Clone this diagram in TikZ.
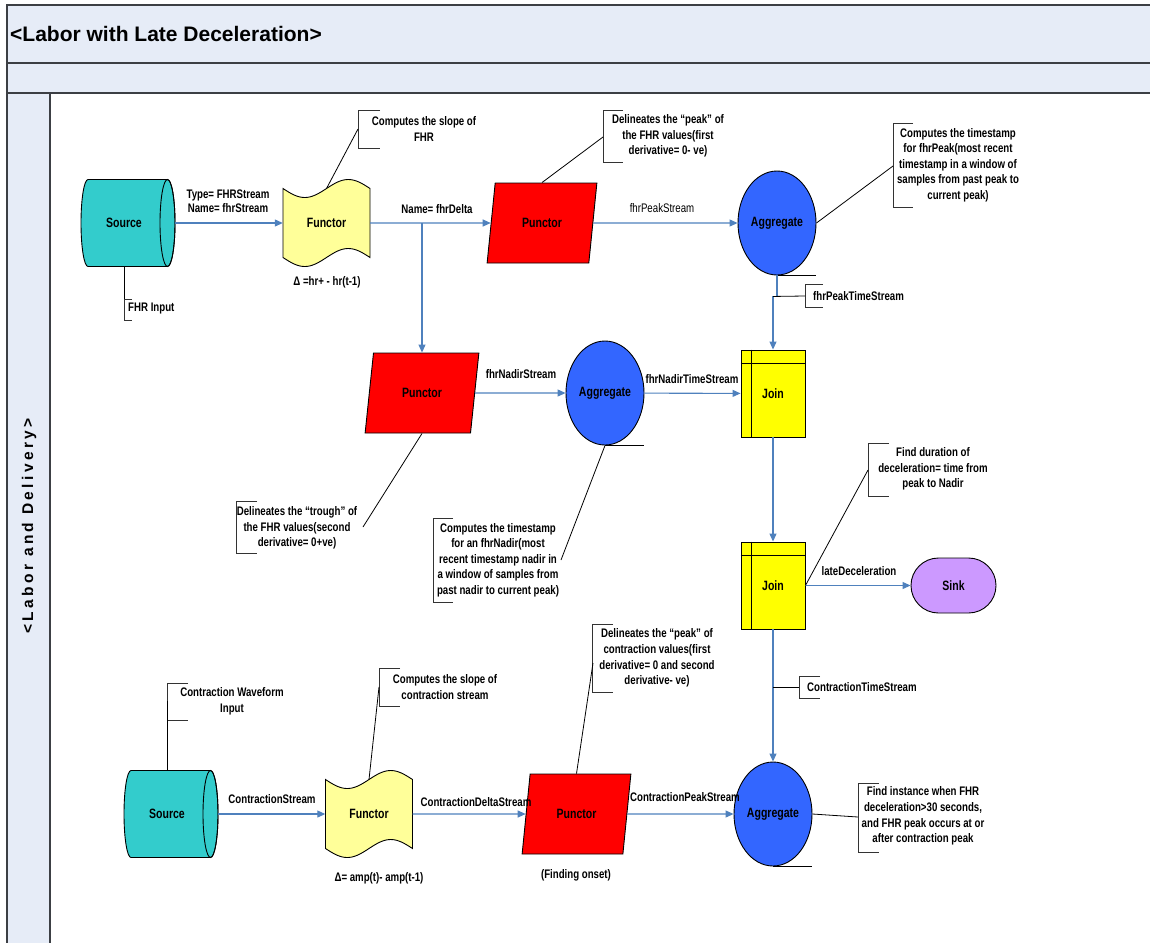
\documentclass[tikz,border=0pt]{standalone}
\usepackage{fontspec}
\usetikzlibrary{arrows.meta,shapes.geometric,calc}
\newfontfamily\narrowsf{Liberation Sans}[FakeStretch=0.78]
\newfontfamily\titlesf{Liberation Sans}
\newfontfamily\lanesf{Liberation Sans}[LetterSpace=22]
\definecolor{lanebg}{HTML}{E6ECF7}
\definecolor{frameline}{HTML}{3C3F44}
\definecolor{conn}{HTML}{4F81BD}
\definecolor{srcfill}{HTML}{33CCCC}
\definecolor{funfill}{HTML}{FFFF99}
\definecolor{punfill}{HTML}{FF0000}
\definecolor{aggfill}{HTML}{3366FF}
\definecolor{joinfill}{HTML}{FFFF00}
\definecolor{sinkfill}{HTML}{CC99FF}
\pgfdeclarelayer{background}
\pgfsetlayers{background,main}

% horizontal cylinder drawn around a node
\newcommand\srcshape[1]{%
  \begin{scope}[shift={(#1.center)}]
    \draw[shapeline,fill=srcfill] (-40,-43.5) -- (39.5,-43.5)
      arc[start angle=-90,end angle=90,x radius=7.5,y radius=43.5]
      -- (-40,43.5)
      arc[start angle=90,end angle=270,x radius=7,y radius=43.5] -- cycle;
    \draw[shapeline] (39.5,0) ellipse[x radius=7.5,y radius=43.5];
  \end{scope}}
% punched-tape outline drawn around a node
\newcommand\funshape[1]{%
  \begin{scope}[shift={(#1.center)}]
    \draw[shapeline,fill=funfill]
      plot[domain=0:87,samples=45,smooth] ({\x-43.5},{-34.5+9*sin(\x*4.1379)})
      -- plot[domain=87:0,samples=45,smooth] ({\x-43.5},{34.5+9*sin(\x*4.1379)})
      -- cycle;
  \end{scope}}

\begin{document}
\begin{tikzpicture}[x=1pt,y=-1pt,
  shapeline/.style={draw=black,line width=0.9pt},
  lbl/.style={font=\narrowsf\bfseries\fontsize{13.5}{15}\selectfont},
  srcnode/.style={rectangle,draw=none,minimum width=94pt,minimum height=87pt,inner sep=0pt,lbl},
  funnode/.style={rectangle,draw=none,minimum width=87pt,minimum height=87pt,inner sep=0pt,lbl},
  punnode/.style={trapezium,trapezium left angle=70,trapezium right angle=110,
    trapezium stretches=true,shapeline,fill=punfill,minimum height=80pt,inner sep=0pt,lbl},
  aggnode/.style={ellipse,shapeline,fill=aggfill,minimum width=78pt,minimum height=104pt,inner sep=0pt,lbl},
  joinnode/.style={rectangle,shapeline,fill=joinfill,minimum width=64pt,minimum height=87pt,inner sep=0pt,lbl},
  sinknode/.style={rectangle,rounded corners=27.5pt,shapeline,fill=sinkfill,minimum width=85pt,minimum height=55pt,inner sep=0pt,lbl},
  flow/.style={draw=conn,line width=1.1pt,-{Triangle[length=8pt,width=7pt]}},
  frame/.style={draw=frameline,line width=1.6pt},
  brkline/.style={draw=black!80,line width=0.9pt},
  leader/.style={draw=black,line width=0.8pt},
  note/.style={font=\narrowsf\bfseries\fontsize{12.4}{15.6}\selectfont,align=center,inner sep=0pt},
  edgelbl/.style={font=\narrowsf\bfseries\fontsize{12.4}{14.5}\selectfont,align=center,inner sep=0pt},
  edgelblthin/.style={font=\narrowsf\fontsize{12.4}{14.5}\selectfont,align=center,inner sep=0pt}]

\useasboundingbox (0,0) rectangle (1150,943);

% swimlane frame
\fill[lanebg] (7,5) rectangle (1150,93);
\fill[lanebg] (7,93) rectangle (50,943);
\draw[frame] (1150,5) -- (7,5) -- (7,943);
\draw[frame] (7,63) -- (1150,63);
\draw[frame] (7,93) -- (1150,93);
\draw[frame] (50,93) -- (50,943);
\node[anchor=west,font=\titlesf\bfseries\fontsize{21}{24}\selectfont,inner sep=0pt] (title) at (10,34) {<Labor with Late Deceleration>};
\node[rotate=90,font=\lanesf\bfseries\fontsize{15.5}{17}\selectfont,inner sep=0pt] (lane) at (29,526) {<Labor and Delivery>};

% operators
\node[srcnode] (src1) at (128,223) {\hspace*{-8pt}Source};
\node[funnode] (fun1) at (326.5,223) {Functor};
\node[punnode,minimum width=110pt] (pun1) at (542,223) {Punctor};
\node[aggnode] (agg1) at (777,223) {Aggregate};
\node[punnode,minimum width=114pt] (pun2) at (422,393) {Punctor};
\node[aggnode] (agg2) at (605,393) {Aggregate};
\node[joinnode] (join1) at (773,393.5) {Join};
\node[joinnode] (join2) at (773,585.5) {Join};
\node[sinknode] (sink) at (953.5,585.5) {Sink};
\node[srcnode] (src2) at (171,814) {\hspace*{-8pt}Source};
\node[funnode] (fun2) at (369,814) {Functor};
\node[punnode,minimum width=109pt] (pun3) at (576.5,814) {Punctor};
\node[aggnode] (agg3) at (773,814) {Aggregate};

\begin{pgfonlayer}{background}
  \srcshape{src1}
  \srcshape{src2}
  \funshape{fun1}
  \funshape{fun2}
\end{pgfonlayer}

% join header lines and aggregate tails
\foreach \j in {join1,join2}{
  \draw[shapeline] ($(\j.north west)+(11,0)$) -- ($(\j.south west)+(11,0)$);
  \draw[shapeline] ($(\j.north west)+(0,14)$) -- ($(\j.north east)+(0,14)$);
}
\foreach \a in {agg1,agg2,agg3}{
  \draw[shapeline] (\a.south) -- ++(39,0);
}

% streams
\draw[flow] (src1) -- (fun1);
\draw[flow] (fun1) -- (pun1);
\coordinate (br1) at (pun2.north |- fun1.east);
\draw[flow] (br1) -- (pun2.north);
\draw[flow] (pun1) -- (agg1);
\coordinate (jog1) at ($(agg1.south)+(0,21)$);
\coordinate (jog2) at (join1.north |- jog1);
\draw[flow] (agg1.south) -- (jog1) -| (join1.north);
\draw[flow] (pun2) -- (agg2);
\draw[flow] (agg2) -- (join1);
\draw[flow] (join1) -- (join2);
\draw[flow] (join2) -- (sink);
\draw[flow] (join2) -- (agg3);
\draw[flow] (src2) -- (fun2);
\draw[flow] (fun2) -- (pun3);
\draw[flow] (pun3) -- (agg3);

% stream labels
\node[edgelbl] (l-src1) at (228,201) {Type= FHRStream\\Name= fhrStream};
\node[edgelbl] (l-fun1) at (437,209) {Name= fhrDelta};
\node[edgelblthin] (l-pun1) at (662,208) {fhrPeakStream};
\node[edgelbl] (l-pun2) at (521,374) {fhrNadirStream};
\node[edgelbl] (l-agg2) at (692,379) {fhrNadirTimeStream};
\node[edgelbl] (l-join2) at (859,571) {lateDeceleration};
\node[edgelbl] (l-src2) at (272,799) {ContractionStream};
\node[edgelbl] (l-fun2) at (476,802) {ContractionDeltaStream};
\node[edgelbl] (l-pun3) at (685,797) {ContractionPeakStream};
\node[edgelbl] (f-fun1) at (327,282) {Δ =hr+ - hr(t-1)};
\node[edgelbl] (f-fun2) at (379,878) {Δ= amp(t)- amp(t-1)};
\node[edgelbl] (f-pun3) at (576,875) {(Finding onset)};

% annotations
\node[note,anchor=west] (n-src1) at (128,309) {FHR Input};
\draw[brkline] (132,299) -- (124,299) -- (124,320) -- (132,320);
\draw[leader] (124,266.5) -- (124,299);

\node[note] (n-fun1) at (424,129) {Computes the slope of\\FHR};
\draw[brkline] (380,110) -- (358,110) -- (358,148) -- (380,148);
\draw[leader] ($(fun1.center)+(0,-34.5)$) -- (358,129);

\node[note] (n-pun1) at (668,136) {Delineates the “peak” of\\the FHR values(first\\derivative= 0- ve)};
\draw[brkline] (623,110) -- (603,110) -- (603,162) -- (623,162);
\draw[leader] (pun1.north) -- (603,137);

\node[note] (n-agg1) at (958,165) {Computes the timestamp\\for fhrPeak(most recent\\timestamp in a window of\\samples from past peak to\\current peak)};
\draw[brkline] (913,123) -- (893,123) -- (893,207) -- (913,207);
\draw[leader] (agg1.east) -- (893,166);

\node[note,anchor=west] (n-peakts) at (813,296) {fhrPeakTimeStream};
\draw[brkline] (823,284) -- (805,284) -- (805,307) -- (823,307);
\draw[leader] (jog2) -- (805,296);

\node[note] (n-pun2) at (297,528) {Delineates the “trough” of\\the FHR values(second\\derivative= 0+ve)};
\draw[brkline] (257,501) -- (236,501) -- (236,553) -- (257,553);
\draw[leader] (pun2.south) -- (363,527);

\node[note] (n-agg2) at (498,560) {Computes the timestamp\\for an fhrNadir(most\\recent timestamp nadir in\\a window of samples from\\past nadir to current peak)};
\draw[brkline] (453,518) -- (433,518) -- (433,602) -- (453,602);
\draw[leader] (agg2.south) -- (561,560);

\node[note] (n-join2) at (933,469) {Find duration of\\deceleration= time from\\peak to Nadir};
\draw[brkline] (889,443) -- (868,443) -- (868,496) -- (889,496);
\draw[leader] (join2.east) -- (868,470);

\coordinate (ctjoin) at (773,687);
\node[note,anchor=west] (n-ctime) at (807,687) {ContractionTimeStream};
\draw[brkline] (820,676) -- (799,676) -- (799,698) -- (820,698);
\draw[leader] (ctjoin) -- (799,687);

\coordinate (src2top) at (167,770.5);
\node[note] (n-src2) at (232,701) {Contraction Waveform\\Input};
\draw[brkline] (188,683) -- (167,683) -- (167,720) -- (188,720);
\draw[leader] (src2top) -- (167,701);

\node[note] (n-fun2) at (445,687) {Computes the slope of\\contraction stream};
\draw[brkline] (400,668) -- (379,668) -- (379,706) -- (400,706);
\draw[leader] ($(fun2.center)+(0,-34.5)$) -- (379,687);

\node[note] (n-pun3) at (657,658) {Delineates the “peak” of\\contraction values(first\\derivative= 0 and second\\derivative- ve)};
\draw[brkline] (613,624) -- (592,624) -- (592,692) -- (613,692);
\draw[leader] (pun3.north) -- (593,663);

\node[note] (n-agg3) at (923,816) {Find instance when FHR\\deceleration>30 seconds,\\and FHR peak occurs at or\\after contraction peak};
\draw[brkline] (879,783) -- (858,783) -- (858,852) -- (879,852);
\draw[leader] (agg3.east) -- (858,817);

\end{tikzpicture}
\end{document}
